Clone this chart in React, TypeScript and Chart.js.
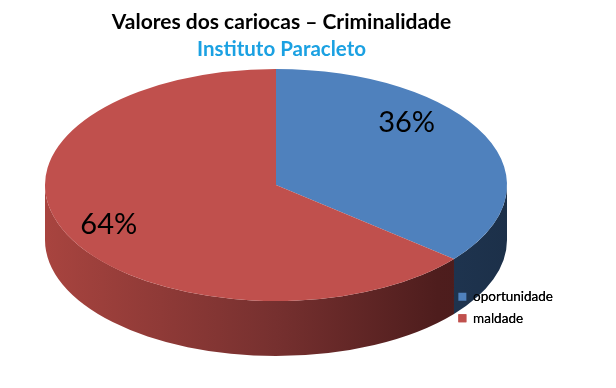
import React, { useEffect, useRef } from "react";
import { Chart, registerables } from "chart.js";

Chart.register(...registerables);

const categories = ["oportunidade", "maldade"];
const values = [36, 64];
const labelTexts = ["36%", "64%"];
const topColors = ["#4F81BD", "#C0504D"];

const FONT = "Lato, 'Open Sans', sans-serif";

// projection of the pie into a tilted disc
const CX = 276;
const CY = 185;
const RX = 231;
const RY = 116;
const DEPTH = 55;

function visibleIntervals(a: number, b: number): [number, number][] {
  const res: [number, number][] = [];
  const TWO = Math.PI * 2;
  for (let k = -2; k <= 2; k++) {
    const lo = Math.max(a, k * TWO);
    const hi = Math.min(b, k * TWO + Math.PI);
    if (hi > lo) res.push([lo, hi]);
  }
  return res;
}

const pie3d = {
  id: "pie3d",
  beforeDatasetsDraw(chart: any) {
    const ctx = chart.ctx as CanvasRenderingContext2D;
    const meta = chart.getDatasetMeta(0);
    meta.data.forEach((arc: any, i: number) => {
      const { startAngle, endAngle } = arc.getProps(["startAngle", "endAngle"], true);
      visibleIntervals(startAngle, endAngle).forEach(([a, b]) => {
        ctx.save();
        ctx.beginPath();
        ctx.ellipse(CX, CY, RX, RY, 0, a, b, false);
        ctx.lineTo(CX + RX * Math.cos(b), CY + DEPTH + RY * Math.sin(b));
        ctx.ellipse(CX, CY + DEPTH, RX, RY, 0, b, a, true);
        ctx.closePath();
        const g = ctx.createLinearGradient(CX - RX, 0, CX + RX, 0);
        if (i === 0) {
          g.addColorStop(0, "#2E4E78");
          g.addColorStop(1, "#1C3049");
        } else {
          g.addColorStop(0, "#A8443F");
          g.addColorStop(0.5, "#76302F");
          g.addColorStop(0.85, "#4E1D1D");
          g.addColorStop(1, "#481B1B");
        }
        ctx.fillStyle = g;
        ctx.fill();
        ctx.restore();
      });
    });
    const a0 = meta.data[0].getProps(["x", "y", "outerRadius"], true);
    ctx.save();
    ctx.translate(CX, CY);
    ctx.scale(RX / a0.outerRadius, RY / a0.outerRadius);
    ctx.translate(-a0.x, -a0.y);
  },
  afterDatasetsDraw(chart: any) {
    const ctx = chart.ctx as CanvasRenderingContext2D;
    ctx.restore();
    const meta = chart.getDatasetMeta(0);
    ctx.save();
    ctx.fillStyle = "#000";
    ctx.font = `29px ${FONT}`;
    ctx.textAlign = "center";
    ctx.textBaseline = "middle";
    const factors = [0.78, 0.8];
    const angleShift = [-0.32, 0];
    meta.data.forEach((arc: any, i: number) => {
      const { startAngle, endAngle } = arc.getProps(["startAngle", "endAngle"], true);
      const m = (startAngle + endAngle) / 2 + angleShift[i];
      const x = CX + RX * factors[i] * Math.cos(m);
      const y = CY + RY * factors[i] * Math.sin(m);
      ctx.fillText(labelTexts[i], x, y);
    });
    ctx.restore();
    // legend sits on top of the pie side
    if (chart.legend) chart.legend.draw();
  },
};

export default function App() {
  const ref = useRef<HTMLCanvasElement | null>(null);
  useEffect(() => {
    if (!ref.current) return;
    const chart = new Chart(ref.current, {
      type: "pie",
      data: {
        labels: categories,
        datasets: [
          {
            data: values,
            backgroundColor: topColors,
            borderWidth: 0,
          },
        ],
      },
      options: {
        responsive: true,
        maintainAspectRatio: false,
        animation: false,
        layout: { padding: { left: 0, right: 53, top: 0, bottom: 55 } },
        plugins: {
          title: {
            display: true,
            text: "Valores dos cariocas – Criminalidade",
            color: "#000",
            font: { family: FONT, size: 21, weight: "bold" },
            padding: { top: 10, bottom: 2 },
          },
          subtitle: {
            display: true,
            text: "Instituto Paracleto",
            color: "#1BA1E2",
            font: { family: FONT, size: 20.5, weight: "bold" },
            padding: { top: 0, bottom: 0 },
          },
          legend: {
            position: "right",
            align: "end",
            labels: {
              boxWidth: 8,
              boxHeight: 8,
              padding: 8,
              color: "#000",
              font: { family: FONT, size: 13.5 },
            },
          },
          tooltip: { enabled: false },
        },
      },
      plugins: [pie3d],
    });
    return () => chart.destroy();
  }, []);
  return (
    <div style={{ position: "absolute", left: 0, top: 0, width: 616, height: 388, background: "#fff" }}>
      <canvas ref={ref} />
    </div>
  );
}
